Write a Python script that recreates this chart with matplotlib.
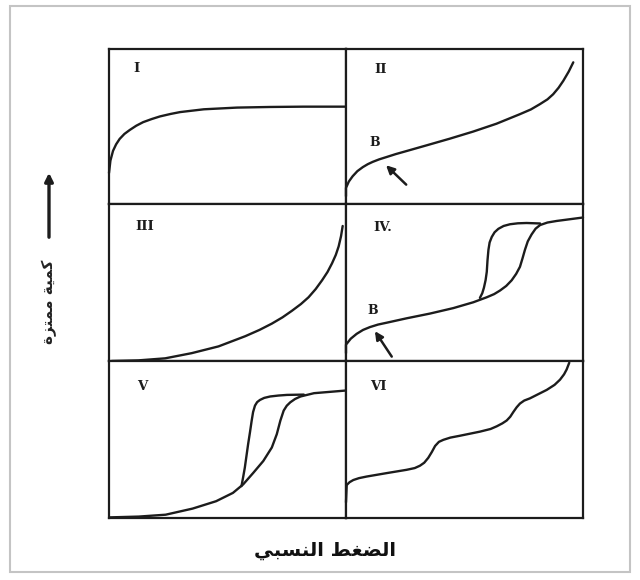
import matplotlib
matplotlib.use("Agg")
import matplotlib.pyplot as plt
from matplotlib.patches import Rectangle, FancyArrowPatch

# ---------------- data (fractions of each panel) ----------------
# Type I
i_x = [0.0, 0.006, 0.017, 0.03, 0.045, 0.065, 0.088, 0.115, 0.144, 0.18, 0.215,
       0.26, 0.30, 0.40, 0.54, 0.68, 0.82, 1.0]
i_y = [0.20, 0.28, 0.343, 0.385, 0.42, 0.452, 0.478, 0.505, 0.528, 0.548, 0.565,
       0.581, 0.593, 0.611, 0.622, 0.626, 0.628, 0.628]

# Type II
ii_x = [0.0, 0.0, 0.012, 0.028, 0.048, 0.071, 0.092, 0.113, 0.14, 0.169, 0.21, 0.254,
        0.339, 0.437, 0.536, 0.635, 0.733, 0.78, 0.818, 0.85, 0.874, 0.897, 0.917,
        0.94, 0.959]
ii_y = [0.05, 0.104, 0.145, 0.179, 0.212, 0.238, 0.257, 0.272, 0.288, 0.302, 0.322,
        0.341, 0.378, 0.421, 0.467, 0.518, 0.579, 0.61, 0.644, 0.675, 0.708, 0.75,
        0.795, 0.855, 0.914]

# Type III
iii_x = [0.011, 0.124, 0.237, 0.349, 0.462, 0.575, 0.635, 0.687, 0.732, 0.772, 0.81,
         0.842, 0.872, 0.899, 0.922, 0.941, 0.957, 0.969, 0.979, 0.986]
iii_y = [0.0, 0.004, 0.017, 0.05, 0.093, 0.158, 0.198, 0.238, 0.278, 0.32, 0.363,
         0.406, 0.458, 0.514, 0.567, 0.622, 0.676, 0.73, 0.795, 0.86]

# Type IV (adsorption + desorption branch)
iv_ads_x = [0.0, 0.0, 0.02, 0.045, 0.072, 0.101, 0.135, 0.172, 0.256, 0.354, 0.453,
            0.537, 0.594, 0.625, 0.65, 0.676, 0.699, 0.718, 0.734, 0.745, 0.755,
            0.767, 0.783, 0.8, 0.819, 0.85, 0.889, 1.0]
iv_ads_y = [0.05, 0.104, 0.142, 0.173, 0.198, 0.216, 0.232, 0.244, 0.272, 0.302,
            0.337, 0.374, 0.406, 0.426, 0.449, 0.478, 0.514, 0.555, 0.60, 0.655,
            0.708, 0.762, 0.806, 0.843, 0.866, 0.882, 0.892, 0.914]
iv_des_x = [0.565, 0.575, 0.582, 0.589, 0.594, 0.597, 0.601, 0.606, 0.615, 0.627,
            0.643, 0.665, 0.692, 0.725, 0.762, 0.819]
iv_des_y = [0.402, 0.432, 0.467, 0.515, 0.568, 0.64, 0.708, 0.755, 0.79, 0.82,
            0.842, 0.86, 0.871, 0.877, 0.879, 0.876]

# Type V (adsorption + desorption branch)
v_ads_x = [0.004, 0.125, 0.239, 0.353, 0.452, 0.523, 0.566, 0.609, 0.651, 0.687,
           0.708, 0.723, 0.737, 0.75, 0.765, 0.785, 0.808, 0.865, 1.0]
v_ads_y = [0.004, 0.009, 0.021, 0.06, 0.107, 0.16, 0.214, 0.288, 0.363, 0.449,
           0.534, 0.62, 0.684, 0.715, 0.737, 0.758, 0.774, 0.795, 0.812]
v_des_x = [0.559, 0.566, 0.573, 0.58, 0.587, 0.595, 0.602, 0.608, 0.616, 0.625,
           0.637, 0.655, 0.68, 0.715, 0.751, 0.822]
v_des_y = [0.203, 0.26, 0.32, 0.395, 0.47, 0.548, 0.62, 0.675, 0.716, 0.738,
           0.752, 0.765, 0.774, 0.78, 0.784, 0.786]

# Type VI (stepwise)
vi_x = [0.0, 0.003, 0.015, 0.031, 0.055, 0.087, 0.172, 0.256, 0.29, 0.312, 0.33,
        0.347, 0.362, 0.376, 0.392, 0.411, 0.44, 0.481, 0.565, 0.61, 0.636, 0.66,
        0.678, 0.693, 0.706, 0.72, 0.734, 0.752, 0.776, 0.847, 0.88, 0.903, 0.92,
        0.931, 0.942]
vi_y = [0.10, 0.21, 0.228, 0.242, 0.254, 0.264, 0.286, 0.307, 0.318, 0.333, 0.352,
        0.383, 0.42, 0.459, 0.485, 0.498, 0.512, 0.524, 0.55, 0.567, 0.584, 0.603,
        0.621, 0.645, 0.675, 0.705, 0.729, 0.748, 0.762, 0.816, 0.848, 0.881, 0.915,
        0.946, 0.989]

panel_labels = ["I", "II", "III", "IV.", "V", "VI"]

# Arabic strings, pre-shaped (presentation forms, visual order)
xlabel_text = "\uFEF2\uFE92\uFEB4\uFEE8\uFEDF\uFE8D \uFEC2\uFED0\uFEC0\uFEDF\uFE8D"   # الضغط النسبي
ylabel_text = "\uFE93\uFEB0\uFE98\uFEE4\uFEE3 \uFE94\uFEF4\uFEE4\uFEDB"              # كمية ممتزة

# ---------------- layout ----------------
W, H = 640, 580
fig = plt.figure(figsize=(6.4, 5.8), dpi=100)

col_edges = [109, 346, 583]
row_edges = [49, 204, 361, 518]

INK = "#1c1c1c"
LW = 1.7

def make_ax(col, row):
    x0, x1 = col_edges[col], col_edges[col + 1]
    y0, y1 = row_edges[row], row_edges[row + 1]
    ax = fig.add_axes([x0 / W, 1 - y1 / H, (x1 - x0) / W, (y1 - y0) / H])
    ax.set_xlim(0, 1)
    ax.set_ylim(0, 1)
    ax.set_xticks([])
    ax.set_yticks([])
    for s in ax.spines.values():
        s.set_linewidth(1.6)
        s.set_color(INK)
    return ax

axes = [make_ax(c, r) for r in range(3) for c in range(2)]
ax1, ax2, ax3, ax4, ax5, ax6 = axes

curve_kw = dict(color=INK, lw=LW, clip_on=False, solid_joinstyle="round",
                solid_capstyle="round")
ax1.plot(i_x, i_y, **curve_kw)
ax2.plot(ii_x, ii_y, **curve_kw)
ax3.plot(iii_x, iii_y, **curve_kw)
ax4.plot(iv_ads_x, iv_ads_y, **curve_kw)
ax4.plot(iv_des_x, iv_des_y, **curve_kw)
ax5.plot(v_ads_x, v_ads_y, **curve_kw)
ax5.plot(v_des_x, v_des_y, **curve_kw)
ax6.plot(vi_x, vi_y, **curve_kw)

label_pos = [(0.116, 0.876), (0.148, 0.87), (0.149, 0.855),
             (0.155, 0.849), (0.139, 0.838), (0.136, 0.835)]
for ax, lab, (lx, ly) in zip(axes, panel_labels, label_pos):
    ax.text(lx, ly, lab, ha="center", va="center", fontsize=9.5,
            fontweight="bold", family="DejaVu Serif", color=INK)

# point B markers with arrows
for ax, (bx, by), (tx, ty), (hx, hy) in [
        (ax2, (0.12, 0.395), (0.254, 0.125), (0.169, 0.25)),
        (ax4, (0.113, 0.324), (0.193, 0.028), (0.122, 0.19))]:
    ax.text(bx, by, "B", ha="center", va="center", fontsize=9,
            fontweight="bold", family="DejaVu Serif", color=INK)
    ax.annotate("", xy=(hx, hy), xytext=(tx, ty),
                arrowprops=dict(arrowstyle="-|>", color=INK, lw=1.8,
                                mutation_scale=12, shrinkA=0, shrinkB=0))

# axis captions
fig.text(325 / W, 1 - 550 / H, xlabel_text, ha="center", va="center",
         fontsize=14, fontweight="bold", family="DejaVu Sans", color="#111111")
fig.text(49 / W, 1 - 302 / H, ylabel_text, ha="center", va="center",
         rotation=90, fontsize=11, fontweight="bold", family="DejaVu Sans",
         color="#222222")
fig.add_artist(FancyArrowPatch(
    (49 / W, 1 - 240 / H), (49 / W, 1 - 170 / H), transform=fig.transFigure,
    arrowstyle="-|>", mutation_scale=12, lw=2.4, color=INK))

# light outer frame
fig.add_artist(Rectangle((10 / W, 1 - 572 / H), 620 / W, 566 / H,
                         transform=fig.transFigure, fill=False,
                         edgecolor="#c4c4c4", lw=1.5))

fig.savefig("out.png", dpi=100)
